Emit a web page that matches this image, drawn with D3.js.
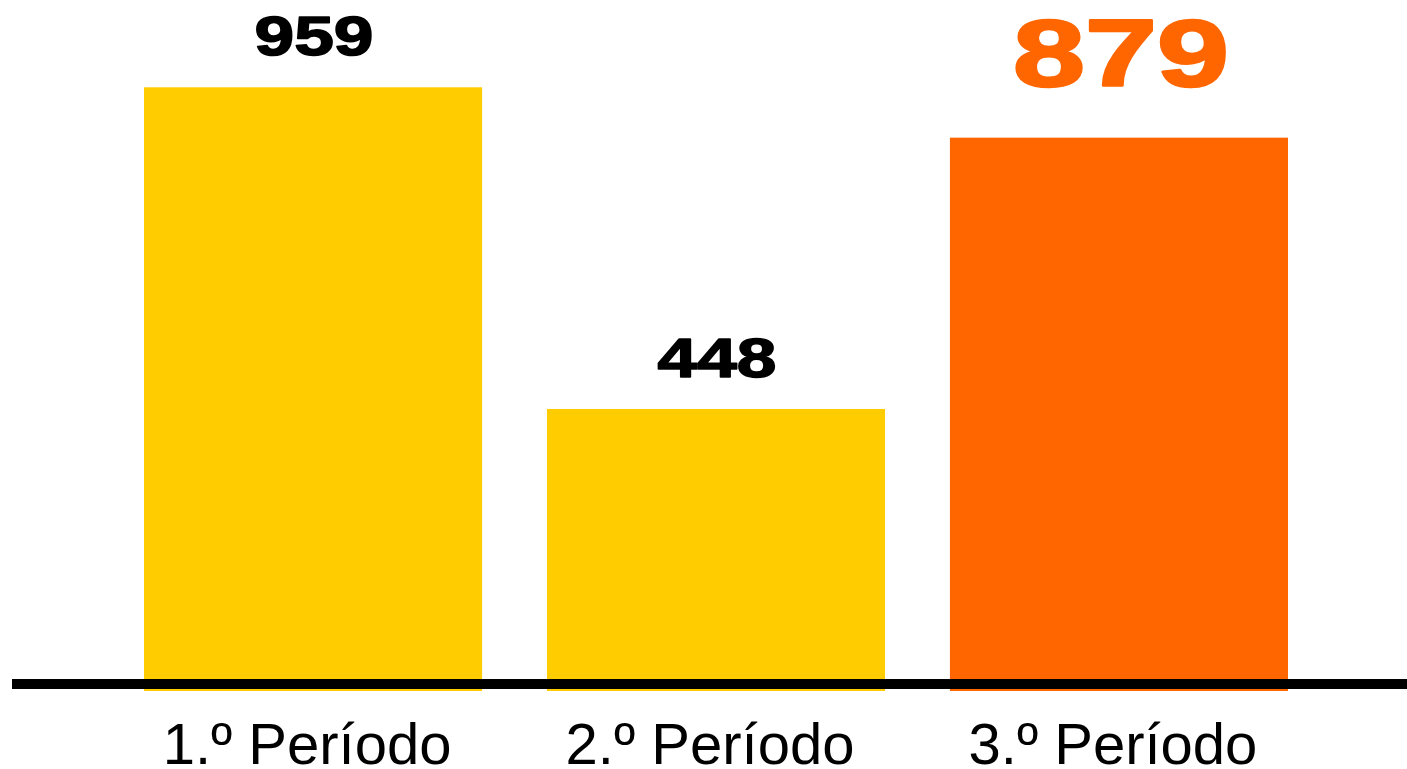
<!DOCTYPE html>
<html><head><meta charset="utf-8">
<script src="https://cdn.jsdelivr.net/npm/d3@7"></script>
<style>html,body{margin:0;padding:0;background:#fff;overflow:hidden}</style>
</head><body>
<svg id="chart" width="1407" height="769"></svg>
<script>
const categories = ["1.º Período", "2.º Período", "3.º Período"];
const values = [959, 448, 879];
const highlight = [false, false, true];

const svg = d3.select("#chart");
const x = d3.scaleBand().domain(categories).range([144, 1288]).paddingInner(0.161).paddingOuter(0);
const y = d3.scaleLinear().domain([0, 959]).range([691, 87.3]);

const colorOf = i => highlight[i] ? "#FF6600" : "#FFCC00";

svg.selectAll("rect.bar").data(values).join("rect")
  .attr("class", "bar")
  .attr("x", (d, i) => x(categories[i]))
  .attr("width", x.bandwidth())
  .attr("y", d => y(d))
  .attr("height", d => y(0) - y(d))
  .attr("fill", (d, i) => colorOf(i));

// baseline
svg.append("rect").attr("x", 12).attr("y", 679).attr("width", 1395).attr("height", 10).attr("fill", "#000");

// value labels
svg.selectAll("text.val").data(values).join("text")
  .attr("class", "val")
  .attr("x", (d, i) => x(categories[i]) + x.bandwidth() / 2 + (highlight[i] ? 2 : 1))
  .attr("y", (d, i) => y(d) - (highlight[i] ? 52 : 32))
  .attr("text-anchor", "middle")
  .attr("font-family", "'Liberation Sans', Arial, sans-serif")
  .attr("font-weight", "bold")
  .attr("font-size", (d, i) => highlight[i] ? 95 : 56)
  .attr("textLength", (d, i) => highlight[i] ? 216 : 119)
  .attr("lengthAdjust", "spacingAndGlyphs")
  .attr("fill", (d, i) => highlight[i] ? "#FF6600" : "#000")
  .attr("stroke", (d, i) => highlight[i] ? "#FF6600" : "#000")
  .attr("stroke-width", (d, i) => highlight[i] ? 2.5 : 1.5)
  .attr("stroke-linejoin", "round")
  .text(d => d);

// category labels
svg.selectAll("text.cat").data(categories).join("text")
  .attr("class", "cat")
  .attr("x", d => x(d) + x.bandwidth() / 2 - 6)
  .attr("y", 764)
  .attr("text-anchor", "middle")
  .attr("font-family", "'Liberation Sans', Arial, sans-serif")
  .attr("font-size", 58)
  .attr("fill", "#000")
  .text(d => d);
</script>
</body></html>
